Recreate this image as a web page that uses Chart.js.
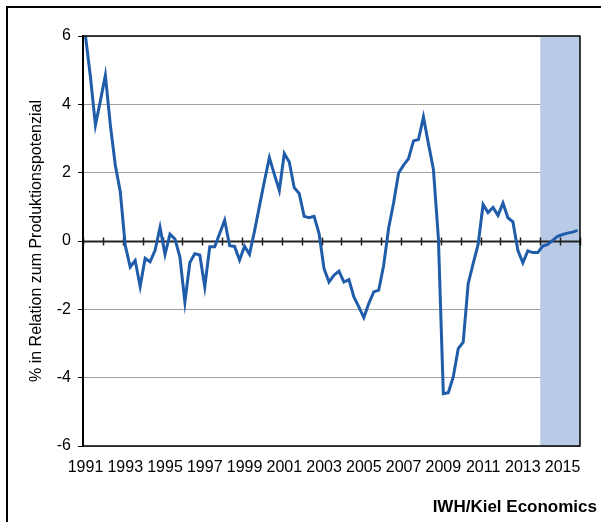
<!DOCTYPE html>
<html>
<head>
<meta charset="utf-8">
<script src="https://cdn.jsdelivr.net/npm/chart.js@4/dist/chart.umd.min.js"></script>
<style>
  html, body { margin: 0; padding: 0; background: #fff; overflow: hidden; }
  #wrap { position: relative; width: 601px; height: 522px; overflow: hidden; }
  #frame { position: absolute; left: 6px; top: 6px; width: 640px; height: 560px;
           border-left: 2px solid #000; border-top: 2px solid #000; }
  #chart { position: absolute; left: 0; top: 0; }
  #credit { position: absolute; right: 4px; top: 497px;
            font: bold 17px 'Liberation Sans', Arial, sans-serif; color: #000; }
</style>
</head>
<body>
<div id="wrap">
  <div id="frame"></div>
  <canvas id="chart" width="601" height="522"></canvas>
  <div id="credit">IWH/Kiel Economics</div>
</div>
<script>
// Output gap, quarterly, 1991Q1 - 2015Q4
const years = [1991, 1992, 1993, 1994, 1995, 1996, 1997, 1998, 1999, 2000, 2001, 2002, 2003,
               2004, 2005, 2006, 2007, 2008, 2009, 2010, 2011, 2012, 2013, 2014, 2015];
const quarterNames = ['Q1', 'Q2', 'Q3', 'Q4'];

const outputGap = [
   6.00,  4.80,  3.39,  4.10,   // 1991
   4.85,  3.40,  2.22,  1.44,   // 1992
  -0.13, -0.76, -0.57, -1.33,   // 1993
  -0.51, -0.61, -0.27,  0.40,   // 1994
  -0.39,  0.20,  0.06, -0.47,   // 1995
  -1.79, -0.63, -0.37, -0.41,   // 1996
  -1.34, -0.17, -0.17,  0.22,   // 1997
   0.61, -0.14, -0.16, -0.56,   // 1998
  -0.15, -0.39,  0.28,  1.02,   // 1999
   1.75,  2.44,  1.95,  1.48,   // 2000
   2.56,  2.31,  1.56,  1.39,   // 2001
   0.72,  0.68,  0.72,  0.22,   // 2002
  -0.81, -1.20, -1.00, -0.88,   // 2003
  -1.20, -1.13, -1.64, -1.93,   // 2004
  -2.24, -1.83, -1.49, -1.44,   // 2005
  -0.71,  0.38,  1.12,  1.99,   // 2006
   2.22,  2.41,  2.93,  2.97,   // 2007
   3.63,  2.85,  2.10,  0.10,   // 2008
  -4.47, -4.44, -3.98, -3.15,   // 2009
  -2.96, -1.25, -0.66, -0.10,   // 2010
   1.07,  0.83,  0.98,  0.75,   // 2011
   1.11,  0.68,  0.56, -0.27,   // 2012
  -0.64, -0.29, -0.34, -0.34,   // 2013
  -0.15, -0.10,  0.02,  0.14,   // 2014
   0.19,  0.23,  0.26,  0.31    // 2015
];

const yearLabels = ['1991', '1993', '1995', '1997', '1999', '2001', '2003',
                    '2005', '2007', '2009', '2011', '2013', '2015'];
const yTicks = [-6, -4, -2, 0, 2, 4, 6];
const forecastFrom = '2014Q1';
const yTitle = '% in Relation zum Produktionspotenzial';

const labels = [];
years.forEach(y => quarterNames.forEach(q => labels.push(y + q)));

Chart.defaults.font.family = "'Liberation Sans', Arial, sans-serif";
Chart.defaults.color = '#000';

// forecast shading, zero axis with year ticks, plot frame
const overlay = {
    id: 'overlay',
    beforeDatasetsDraw(chart) {
        const { ctx, chartArea: a, scales: { x, y } } = chart;
        const band = x.getPixelForValue(1) - x.getPixelForValue(0);
        const fx = x.getPixelForValue(labels.indexOf(forecastFrom)) - band / 2;
        ctx.save();
        ctx.fillStyle = '#B9CAE6';
        ctx.fillRect(fx, a.top, a.right - fx, a.bottom - a.top);

        const y0 = Math.round(y.getPixelForValue(0)) + 0.5;
        ctx.strokeStyle = '#222';
        ctx.lineWidth = 2;
        ctx.beginPath();
        ctx.moveTo(a.left, y0);
        ctx.lineTo(a.right, y0);
        ctx.stroke();
        ctx.lineWidth = 1.5;
        ctx.beginPath();
        for (let i = 0; i <= labels.length; i += 4) {
            const px = Math.round(x.getPixelForValue(i) - band / 2) + 0.5;
            ctx.moveTo(px, y0 - 4);
            ctx.lineTo(px, y0 + 4);
        }
        ctx.stroke();
        ctx.restore();
    },
    afterDraw(chart) {
        const { ctx, chartArea: a } = chart;
        ctx.save();
        ctx.strokeStyle = '#000';
        ctx.lineWidth = 1.5;
        ctx.strokeRect(a.left, a.top, a.right - a.left, a.bottom - a.top);
        ctx.restore();
    }
};

new Chart(document.getElementById('chart').getContext('2d'), {
    type: 'line',
    data: {
        labels: labels,
        datasets: [{
            label: 'Produktionslücke',
            data: outputGap,
            borderColor: '#1F5DAA',
            borderWidth: 3,
            pointRadius: 0,
            tension: 0,
            fill: false
        }]
    },
    options: {
        responsive: false,
        animation: false,
        devicePixelRatio: 1,
        layout: { padding: { left: 0, top: 36, right: 21, bottom: 0 } },
        plugins: {
            legend: { display: false },
            tooltip: { enabled: false }
        },
        scales: {
            x: {
                type: 'category',
                offset: true,
                grid: { display: false, drawTicks: false },
                border: { display: false },
                ticks: {
                    autoSkip: false,
                    maxRotation: 0,
                    minRotation: 0,
                    padding: 12,
                    font: { size: 16 },
                    callback: function (value, index) {
                        const lab = labels[index];
                        return lab.endsWith('Q1') && yearLabels.includes(lab.slice(0, 4)) ? lab.slice(0, 4) : '';
                    }
                },
                afterFit(scale) { scale.height = 76; }
            },
            y: {
                min: -6,
                max: 6,
                afterBuildTicks(scale) { scale.ticks = yTicks.map(v => ({ value: v })); },
                grid: { color: '#A0A0A0', tickColor: '#000', tickLength: 5, drawTicks: true },
                border: { display: true, color: '#000', width: 2 },
                ticks: { padding: 7, font: { size: 16 } },
                title: {
                    display: true,
                    text: yTitle,
                    font: { size: 16 },
                    padding: { top: 27, bottom: 0 }
                },
                afterFit(scale) { scale.width = 83; }
            }
        }
    },
    plugins: [overlay]
});
</script>
</body>
</html>
